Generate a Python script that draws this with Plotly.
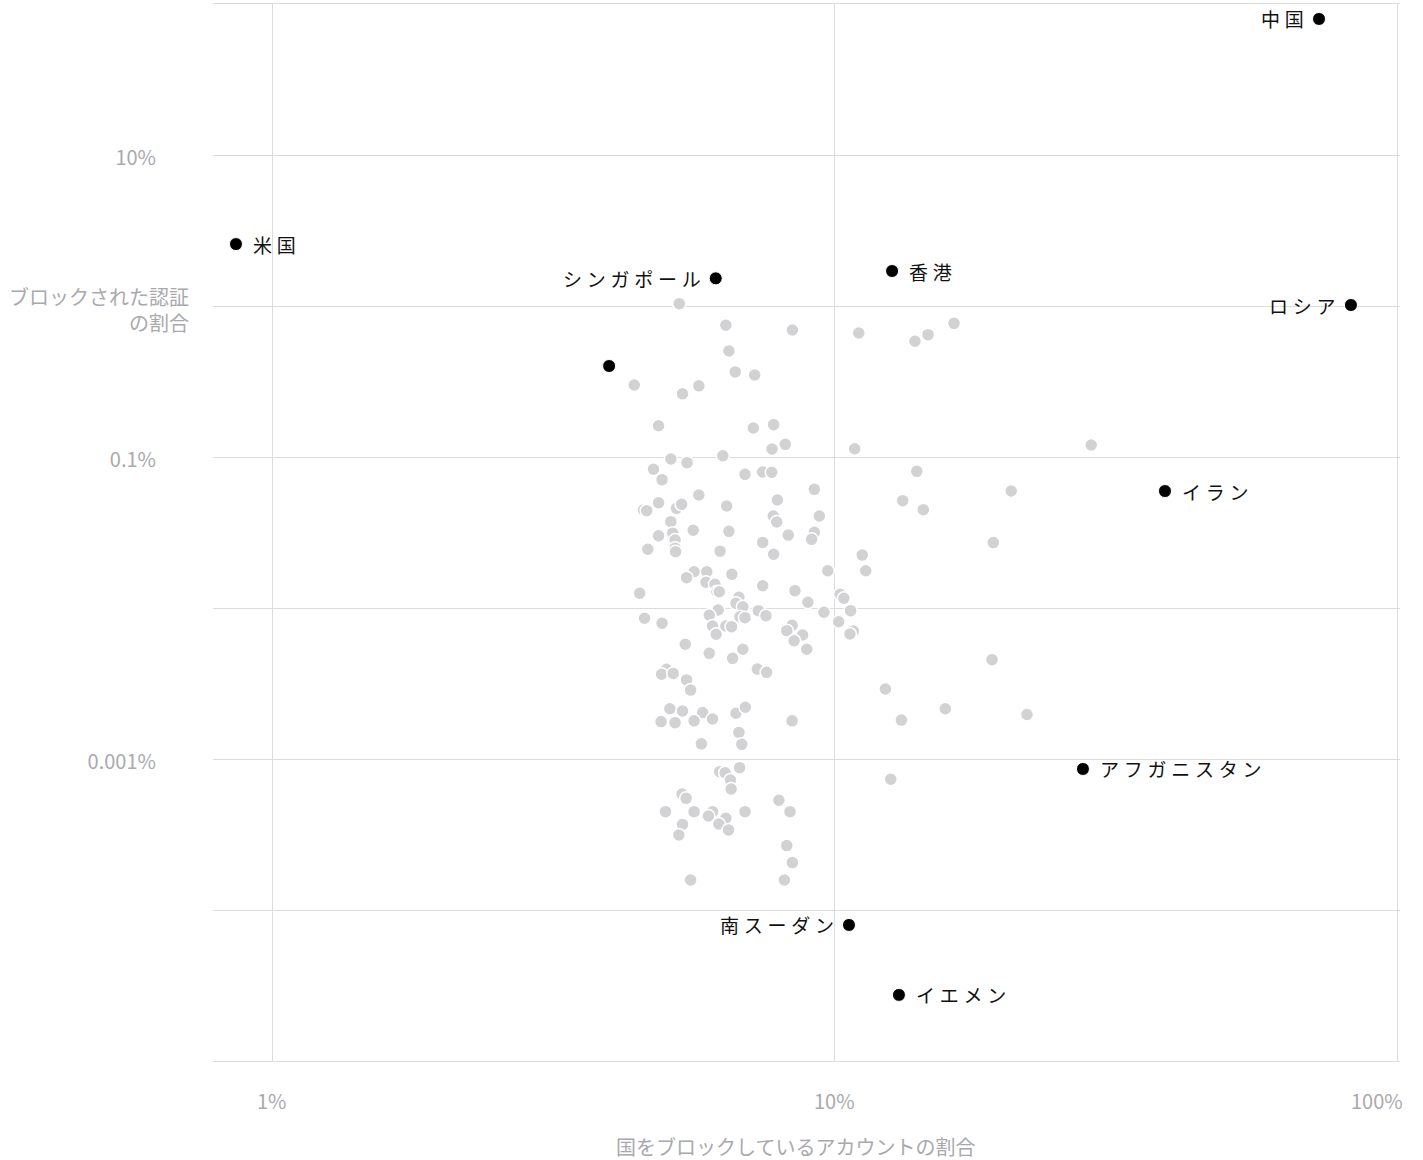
import numpy as np
import plotly.graph_objects as go

# Share of accounts blocking the country (x, %) vs share of authentications blocked (y, %)
GRAY_X = [
    5.29, 6.40, 8.40, 11.02, 6.48, 6.65, 7.20, 4.40, 5.36, 5.73,
    4.86, 7.16, 7.78, 7.73, 8.16, 10.84, 5.11, 5.46, 6.32, 4.76,
    4.93, 6.92, 7.44, 7.72, 9.19, 5.73, 7.90, 4.57, 4.63, 4.86,
    5.23, 5.34, 6.42, 7.77, 7.88, 9.38, 5.11, 4.86, 5.15, 5.20,
    5.20, 5.21, 5.60, 6.48, 8.26, 9.19, 9.09, 7.44, 4.65, 6.25,
    7.78, 11.18, 11.34, 9.71, 5.62, 5.92, 5.45, 6.56, 5.90, 6.12,
    6.17, 6.23, 4.50, 7.44, 8.49, 6.75, 6.67, 6.86, 8.95, 10.21,
    10.37, 10.66, 9.56, 7.31, 7.54, 6.20, 5.98, 6.78, 6.92, 4.59,
    4.93, 6.06, 6.15, 6.40, 6.55, 8.39, 8.21, 10.15, 10.78, 10.63,
    8.76, 8.46, 8.91, 5.42, 5.98, 6.58, 6.86, 5.02, 4.92, 5.16,
    7.28, 7.56, 5.45, 5.54, 5.09, 5.36, 4.91, 5.20, 5.82, 5.62,
    6.06, 6.67, 6.93, 8.39, 6.75, 5.79, 6.83, 6.77, 6.24, 6.38,
    6.52, 6.54, 5.35, 5.44, 7.95, 8.32, 5.00, 5.62, 6.06, 5.96,
    6.40, 6.22, 6.47, 6.92, 5.36, 5.28, 8.21, 8.40, 5.54, 8.13,
    13.87, 14.63, 16.27, 28.52, 13.97, 20.56, 13.19, 14.35, 19.11, 19.01,
    12.29, 15.70, 13.12, 21.93, 12.56,
]
GRAY_Y = [
    1.036, 0.745, 0.693, 0.662, 0.504, 0.366, 0.349, 0.300, 0.262, 0.296,
    0.161, 0.1556, 0.1637, 0.1130, 0.1213, 0.1135, 0.0970, 0.0917, 0.1020, 0.0829,
    0.0708, 0.0768, 0.0796, 0.0792, 0.0611, 0.0560, 0.0519, 0.0446, 0.0441, 0.0498,
    0.0457, 0.0486, 0.0474, 0.0407, 0.0371, 0.0407, 0.0373, 0.0301, 0.0313, 0.0282,
    0.0249, 0.0236, 0.0327, 0.0322, 0.0304, 0.0317, 0.0285, 0.0272, 0.0245, 0.0238,
    0.0227, 0.0224, 0.01766, 0.01766, 0.01739, 0.01739, 0.01588, 0.01671, 0.01480, 0.01436,
    0.01282, 0.01282, 0.01252, 0.01405, 0.01302, 0.01177, 0.01074, 0.01020, 0.01091, 0.01233,
    0.01160, 0.00960, 0.00937, 0.00960, 0.00889, 0.00970, 0.00895, 0.00876, 0.00863, 0.00855,
    0.00792, 0.00760, 0.00670, 0.00760, 0.00752, 0.00768, 0.00708, 0.00811, 0.00704, 0.00673,
    0.00663, 0.00607, 0.00533, 0.00575, 0.00501, 0.00464, 0.00533, 0.00393, 0.00364, 0.00369,
    0.00394, 0.00375, 0.00334, 0.00286, 0.00215, 0.00208, 0.00177, 0.00174, 0.00203, 0.00179,
    0.00184, 0.00201, 0.00220, 0.00179, 0.00150, 0.00126, 0.00125, 0.000876, 0.000824, 0.000811,
    0.000726, 0.000633, 0.000586, 0.000549, 0.000533, 0.000448, 0.000448, 0.000448, 0.000448, 0.000419,
    0.000405, 0.000371, 0.000339, 0.000448, 0.000369, 0.000314, 0.000267, 0.000206, 0.000158, 0.000158,
    0.584, 0.646, 0.768, 0.1201, 0.0804, 0.0595, 0.0514, 0.0448, 0.0271, 0.00455,
    0.00291, 0.00215, 0.00181, 0.00197, 0.000734,
]

# Highlighted countries
HL_NAMES = ["中国", "米国", "シンガポール", "香港", "ロシア", "", "イラン",
            "アフガニスタン", "南スーダン", "イエメン"]
HL_X = [72.4, 0.863, 6.14, 12.63, 82.5, 3.97, 38.56, 27.57, 10.59, 12.99]
HL_Y = [79.6, 2.57, 1.525, 1.705, 1.015, 0.4005, 0.0595, 0.000859, 0.0000796, 0.0000274]
HL_SIDE = ["left", "right", "left", "right", "left", "right", "right",
           "right", "left", "right"]

X_TICK_VALS = [1, 10, 100]
X_TICK_TEXT = ["1%", "10%", "100%"]
Y_TICK_VALS = [0.001, 0.1, 10]
Y_TICK_TEXT = ["0.001%", "0.1%", "10%"]
Y_GRID_EXTRA = [0.00001, 0.0001, 0.01, 1, 100]

X_TITLE = "国をブロックしているアカウントの割合"
Y_TITLE = "ブロックされた認証<br>の割合"

FONT = "Noto Sans CJK JP, Noto Sans, sans-serif"
MUTED = "#a9a9ad"
GRID = "#dcdcdc"
SPACER = "\u2005"

fig = go.Figure()

fig.add_trace(go.Scatter(
    x=GRAY_X, y=GRAY_Y, mode="markers",
    marker=dict(size=13, color="#d2d2d4", line=dict(color="white", width=1.5)),
    hoverinfo="skip", showlegend=False,
))
fig.add_trace(go.Scatter(
    x=HL_X, y=HL_Y, mode="markers",
    marker=dict(size=13, color="#000000", line=dict(color="white", width=1)),
    hoverinfo="skip", showlegend=False,
))

annotations = []
for name, xv, yv, side in zip(HL_NAMES, HL_X, HL_Y, HL_SIDE):
    if not name:
        continue
    annotations.append(dict(
        x=np.log10(xv), y=np.log10(yv), xref="x", yref="y",
        text=SPACER.join(name), showarrow=False,
        xanchor="left" if side == "right" else "right", yanchor="middle",
        xshift=15 if side == "right" else -13,
        font=dict(family=FONT, size=19, color="#111111"),
    ))

# x tick labels (last one pulled inside the canvas)
for val, txt in zip(X_TICK_VALS, X_TICK_TEXT):
    last = val == X_TICK_VALS[-1]
    annotations.append(dict(
        x=np.log10(val), y=0, xref="x", yref="paper",
        text=txt, showarrow=False,
        xanchor="right" if last else "center", yanchor="middle",
        xshift=7 if last else 0, yshift=-39,
        font=dict(family=FONT, size=20, color=MUTED),
    ))

annotations.append(dict(
    x=0.491, y=0, xref="paper", yref="paper", text=X_TITLE, showarrow=False,
    xanchor="center", yanchor="middle", yshift=-85,
    font=dict(family=FONT, size=20, color=MUTED),
))
annotations.append(dict(
    x=0, y=0, xref="paper", yref="y", text=Y_TITLE, showarrow=False,
    xanchor="right", yanchor="middle", align="right", xshift=-22, yshift=-3,
    font=dict(family=FONT, size=20, color=MUTED),
))

fig.update_layout(
    width=1423, height=1160,
    margin=dict(l=213, r=23, t=4, b=99),
    paper_bgcolor="white", plot_bgcolor="white",
    font=dict(family=FONT, size=20, color=MUTED),
    xaxis=dict(
        type="log", range=[-0.1048, 2.0036],
        tickvals=X_TICK_VALS, showticklabels=False,
        showgrid=True, gridcolor=GRID, gridwidth=1,
        zeroline=False, ticks="",
        showline=True, linecolor=GRID, linewidth=1, mirror=True,
    ),
    yaxis=dict(
        type="log", range=[-5.0, 2.0],
        tickvals=Y_TICK_VALS, ticktext=Y_TICK_TEXT,
        showgrid=True, gridcolor=GRID, gridwidth=1,
        minor=dict(tickvals=Y_GRID_EXTRA, showgrid=True,
                   gridcolor=GRID, gridwidth=1, ticks=""),
        zeroline=False, showline=False, ticks="",
        ticklabelstandoff=56, ticklabelshift=3,
        tickfont=dict(family=FONT, size=20, color=MUTED),
    ),
    annotations=annotations,
    showlegend=False,
)

fig.write_html("out.html")
